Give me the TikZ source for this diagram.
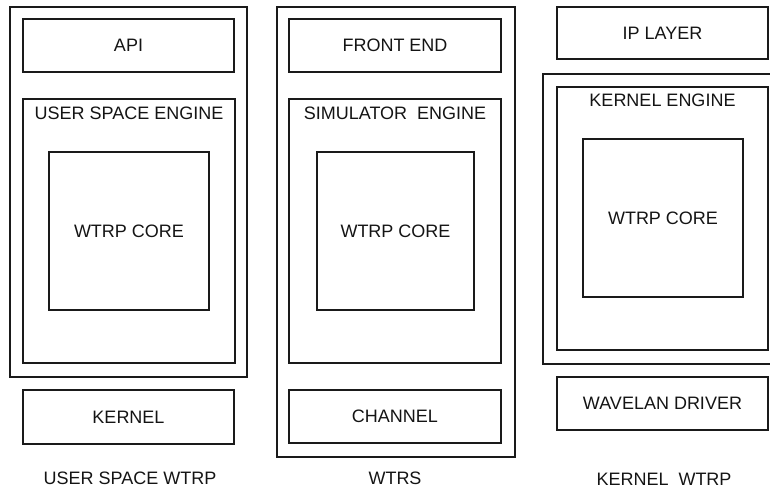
\documentclass[tikz,border=0pt]{standalone}
\usepackage{fontspec}
\setmainfont{Liberation Sans}
\usepackage{xcolor}
\definecolor{cLine}{HTML}{1A1A1A}
\definecolor{cText}{HTML}{141414}
\usepackage{tikz}
\usetikzlibrary{positioning}
\tikzset{
  box-size/.style 2 args={minimum width=#1pt,minimum height=#2pt},
  box-frame/.style={draw=cLine,line width=1.2pt,inner sep=0pt},
  box-layer/.style={draw=cLine,line width=1.2pt,inner sep=0pt,
    align=center,text=cText},
  box-core/.style={box-layer},
  % titles sit at the top edge of the engine boxes
  text-title/.style={inner sep=0pt,text=cText},
  text-caption/.style={inner sep=0pt,text=cText},
}

\begin{document}
\begin{tikzpicture}[x=1pt,y=-1pt,font=\fontsize{18}{21}\selectfont]
  \useasboundingbox (0,0) rectangle (770,489);
  \clip (0,0) rectangle (770,489);

  % user space stack
  \node[box-frame,box-size={237}{370}] (us-frame) at (128.5,192) {};
  \node[box-layer,box-size={211}{53}] (api) at (128.5,45.5) {API};
  \node[box-frame,box-size={212}{264}] (us-engine) at (129,231) {};
  \node[text-title,below=8pt of us-engine.north] (us-engine-title) {USER SPACE ENGINE};
  \node[box-core,box-size={160}{158}] (us-core) at (129,231) {WTRP CORE};
  \node[box-layer,box-size={211}{54}] (kernel) at (128.5,417) {KERNEL};
  \node[text-caption] (us-caption) at (130,478) {USER SPACE WTRP};

  % simulator stack
  \node[box-frame,box-size={238}{450}] (sim-frame) at (396,232) {};
  \node[box-layer,box-size={212}{53}] (front) at (395,45.5) {FRONT END};
  \node[box-frame,box-size={212}{264}] (sim-engine) at (395,231) {};
  \node[text-title,below=8pt of sim-engine.north] (sim-engine-title) {SIMULATOR\ \ ENGINE};
  \node[box-core,box-size={157}{158}] (sim-core) at (395.5,231) {WTRP CORE};
  \node[box-layer,box-size={212}{53}] (channel) at (395,416.5) {CHANNEL};
  \node[text-caption] (sim-caption) at (395,478) {WTRS};

  % kernel stack
  \node[box-layer,box-size={211}{52}] (ip) at (662.5,33) {IP LAYER};
  \node[box-frame,box-size={239}{290}] (k-frame) at (662.5,219) {};
  \node[box-frame,box-size={211}{263}] (k-engine) at (662.5,218.5) {};
  \node[text-title,below=7pt of k-engine.north] (k-engine-title) {KERNEL ENGINE};
  \node[box-core,box-size={160}{158}] (k-core) at (663,218) {WTRP CORE};
  \node[box-layer,box-size={211}{53}] (wavelan) at (662.5,403.5) {WAVELAN DRIVER};
  \node[text-caption] (k-caption) at (664,479) {KERNEL\ \ WTRP};
\end{tikzpicture}
\end{document}
